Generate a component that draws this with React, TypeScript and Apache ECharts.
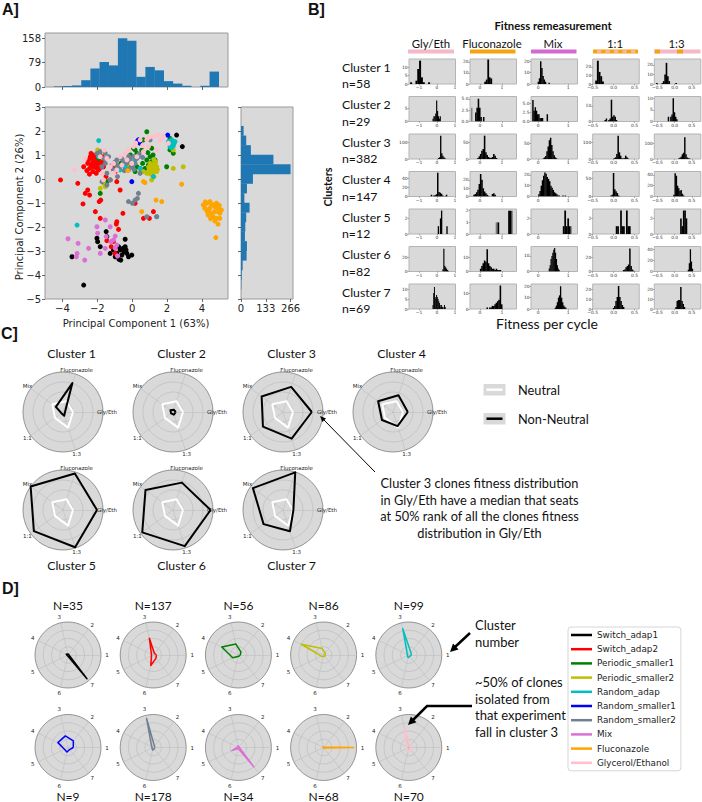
import React, { useEffect, useRef } from 'react';
import * as echarts from 'echarts';

// ================= DATA =================
const EXPERIMENTS = ['Switch_adap1', 'Switch_adap2', 'Periodic_smaller1', 'Periodic_smaller2', 'Random_adap', 'Random_smaller1', 'Random_smaller2', 'Mix', 'Fluconazole', 'Glycerol/Ethanol'];
const EXP_COLORS = ['#000000', '#ff0000', '#008000', '#bfbf00', '#00bfbf', '#0000ff', '#708090', '#da70d6', '#ffa500', '#ffc0cb'];

// Panel A scatter points [PC1, PC2]
const PTS_SWITCH_ADAP1 = [[-3.45, -3.24], [-2.78, -4.42], [-2.02, -2.47], [-1.98, -2.61], [-1.49, -2.19], [-1.45, -2.4], [-0.4, -2.51], [-0.78, -2.82], [-0.69, -2.96], [-0.88, -3.1], [-0.59, -3.17], [-0.46, -3.03], [-0.3, -3.1], [-0.21, -3.24], [-0.02, -3.17], [-0.65, -3.38], [-0.97, -3.24], [-1.26, -3.1], [-1.07, -2.96], [-0.4, -2.82], [-1.83, -2.82], [-0.53, -2.89], [2.55, 1.83], [2.88, 1.35], [-0.75, -3.35], [-0.35, -2.95]];
const PTS_SWITCH_ADAP2 = [[-4.11, -0.04], [-3.12, -0.18], [-2.55, -0.46], [-2.44, -0.67], [-2.69, -0.6], [-2.82, -1.04], [-1.89, -0.94], [-1.8, -0.88], [-2.11, -1.36], [-1.83, -1.64], [-0.88, -1.78], [-0.91, -1.88], [-0.78, -2.1], [-1.2, -2.82], [-0.97, -3.1], [-1.07, -2.6], [-0.53, -1.43], [0.17, -1.01], [0.65, -1.64], [0.99, -1.64], [1.22, -1.36], [-1.45, -2.57], [-2.4, 0.93], [-2.3, 0.65], [-2.21, 0.51], [-2.11, 0.79], [-2.02, 0.58], [-2.44, 0.44], [-1.92, 0.38], [-1.83, 0.65], [-2.25, 0.31], [-2.55, 0.65], [-1.73, 0.93], [-2.36, 1.07], [-2.06, 0.24], [-2.15, 0.93], [-1.9, 0.79], [-2.78, 0.51], [-1.64, 0.51], [-2.2, 0.7], [-2.05, 0.45], [-2.3, 0.85], [-1.95, 0.68], [-2.18, 0.6], [-1.26, -0.04], [-0.88, -0.11], [-0.97, 0.31], [-0.69, -0.46], [-0.4, 0.51], [0.46, 0.44], [-1.5, 0.1], [-1.1, 0.45], [-2.5, 0.8], [-2.35, 0.55], [-2.0, 0.9], [-1.85, 0.45], [-2.6, 0.35], [-2.25, 1.0], [-1.7, 0.7], [-2.45, 0.2]];
const PTS_PERIODIC_SMALLER1 = [[-1.83, -0.6], [-1.87, 1.07], [-1.92, 0.86], [-1.45, -0.11], [-0.97, 0.38], [-0.78, 0.51], [-0.65, 0.65], [-0.3, 0.79], [0.08, 1.28], [0.17, 1.21], [0.27, 1.07], [0.46, 1.49], [0.65, 1.63], [0.84, 1.97], [1.12, 1.28], [0.84, 0.79], [1.03, 0.93], [1.12, 0.72], [1.31, 0.79], [0.93, 0.58], [0.27, 0.51], [1.98, 0.51], [2.17, 1.21], [2.36, 1.07], [2.17, 1.69], [-0.21, 0.58], [0.17, 0.31], [1.22, 0.44], [0.74, 0.44], [0.9, 1.1], [1.2, 1.0], [0.55, 1.2], [-0.1, 1.0], [0.6, 0.65]];
const PTS_PERIODIC_SMALLER2 = [[1.03, 0.65], [1.12, 0.51], [1.22, 0.38], [1.31, 0.58], [1.41, 0.31], [1.18, 0.24], [1.26, 0.79], [0.99, 0.38], [1.41, 0.51], [1.12, -0.04], [0.65, 0.31], [2.36, 0.44], [2.93, 0.51], [2.36, 1.21], [-1.54, -0.32], [-1.83, -0.39], [-1.64, -0.18], [-1.98, 1.21], [-0.3, 0.58], [-0.11, 0.65], [0.84, 0.24], [1.3, 0.45], [1.1, 0.3], [1.15, 0.6], [1.35, 0.7], [1.05, 0.2], [1.25, 0.1], [1.45, 0.4], [0.95, 0.5]];
const PTS_RANDOM_ADAP = [[2.08, 1.56], [2.21, 1.49], [2.32, 1.51], [2.36, 1.38], [2.27, 1.63], [2.17, 1.35], [2.46, 1.56], [-1.92, 1.6], [-3.16, -1.92], [-1.92, 0.93], [0.36, 0.93], [-0.4, 0.51], [1.22, 0.1], [1.41, -1.57], [-0.69, 0.38], [0.46, 0.44], [0.17, 0.79], [2.3, 1.42], [2.4, 1.48], [2.15, 1.55], [2.25, 1.3]];
const PTS_RANDOM_SMALLER1 = [[0.36, 1.63], [0.42, 1.51], [2.04, 1.83], [-0.02, -0.11], [0.3, 1.58]];
const PTS_RANDOM_SMALLER2 = [[-2.02, 1.07], [-1.83, 1.14], [-1.54, 1.07], [-1.73, 0.51], [-1.54, 0.65], [-1.35, 0.93], [-1.45, 0.24], [-1.07, 0.38], [-0.88, 0.58], [-0.69, 0.51], [-0.5, 0.72], [-0.3, 0.65], [-0.11, 0.79], [-0.02, 0.51], [0.17, 0.65], [0.27, 0.86], [0.08, 0.93], [-0.21, 0.38], [-1.73, -0.11], [-1.45, -0.25], [0.36, -0.6], [0.3, -0.81], [-0.21, -0.94], [0.02, -1.01], [0.17, -0.88], [0.84, -1.57], [1.41, -1.57], [-0.88, 0.79], [1.03, 1.63], [0.46, 0.24], [-1.26, -0.04], [-0.84, 0.1], [-1.0, 0.7], [-0.6, 0.85], [-0.2, 0.95], [0.4, 1.05], [0.6, 0.9], [-1.2, 0.55], [-0.45, 0.35], [0.1, 0.4], [-1.6, 0.85]];
const PTS_MIX = [[-3.68, -2.49], [-3.16, -3.1], [-3.2, -3.24], [-3.1, -2.68], [-2.72, -3.38], [-2.5, -2.89], [-2.02, -1.99], [-1.98, -2.26], [-1.54, -1.71], [-1.26, -1.99], [-1.49, -2.4], [-1.07, -2.54], [-0.97, -2.38], [-0.88, -2.75], [-0.97, -2.89], [-0.84, -3.21], [-1.83, -3.1], [-1.54, -2.89], [-1.22, -2.61]];
const PTS_FLUCONAZOLE = [[4.08, -1.08], [4.27, -1.01], [4.46, -0.94], [4.65, -1.08], [4.84, -1.01], [4.93, -1.22], [4.36, -1.29], [4.55, -1.43], [4.74, -1.36], [5.03, -1.43], [4.65, -1.57], [4.84, -1.64], [5.03, -1.64], [4.17, -1.22], [4.46, -1.22], [4.74, -1.15], [5.12, -1.29], [4.93, -1.88], [4.8, -2.44], [4.36, -1.5], [1.37, -0.88], [1.7, -0.94], [0.55, -1.36], [0.74, -0.15], [0.65, -0.11], [2.84, -0.22], [-0.25, 0.35], [4.2, -0.95], [4.55, -1.05], [4.9, -1.35], [4.5, -1.65], [4.75, -1.75], [4.3, -1.35], [5.0, -1.1]];
const PTS_GLY_ETH = [[-3.31, 0.38], [-1.83, 0.93], [-1.45, 0.86], [-1.26, 0.51], [-1.07, 0.65], [-0.69, 0.93], [-0.4, 1.07], [-0.21, 1.21], [0.08, 1.35], [0.46, 1.63], [0.84, 1.63], [1.22, 1.76], [1.5, 1.83], [1.79, 1.76], [-0.88, 0.38], [-0.59, 0.58], [-0.02, 0.65], [0.27, 0.93], [0.65, 1.14], [-1.73, 0.24], [-1.64, -0.04], [-1.07, 0.24], [0.93, 1.35], [2.08, 1.49], [1.41, 1.21], [-2.7, 0.85], [-1.6, 1.2], [0.2, 1.5], [0.6, 1.4], [1.0, 1.75], [1.6, 1.6], [-0.3, 0.8]];
const SCATTER_POINTS = [PTS_SWITCH_ADAP1, PTS_SWITCH_ADAP2, PTS_PERIODIC_SMALLER1, PTS_PERIODIC_SMALLER2, PTS_RANDOM_ADAP, PTS_RANDOM_SMALLER1, PTS_RANDOM_SMALLER2, PTS_MIX, PTS_FLUCONAZOLE, PTS_GLY_ETH];

// Marginal histograms
const PC1_BIN_START = -4.5;
const PC1_BIN_WIDTH = 0.526;
const PC1_COUNTS = [2, 3, 5, 22, 60, 81, 70, 158, 150, 33, 65, 54, 19, 11, 4, 0, 4, 50];
const PC1_TICKS = [0, 79, 158];
const PC2_BIN_START = -4.6;
const PC2_BIN_WIDTH = 0.4;
const PC2_COUNTS = [2, 4, 9, 30, 32, 21, 23, 28, 46, 18, 32, 64, 266, 174, 53, 28, 14];
const PC2_TICKS = [0, 133, 266];
const PC1_AXIS_TICKS = [-4, -2, 0, 2, 4];

// Panel B
const B_COLUMNS = ['Gly/Eth', 'Fluconazole', 'Mix', '1:1', '1:3'];
const B_CLUSTERS = ['Cluster 1', 'Cluster 2', 'Cluster 3', 'Cluster 4', 'Cluster 5', 'Cluster 6', 'Cluster 7'];
const B_SIZES = ['n=58', 'n=29', 'n=382', 'n=147', 'n=12', 'n=82', 'n=69'];
const B_X_RANGES = [[-1.56, 1.03], [-0.45, 1.67], [-0.24, 1.31], [-0.5, 0.61], [-0.59, 0.76]];
const B_X_TICKS = [[-1, 0, 1], [0, 1], [0, 1], [-0.5, 0, 0.5], [-0.5, 0, 0.5]];
// each histogram: [first bin start, bin width, counts]
const B_HIST_R1 = [[-1.5, 0.1, [1, 0, 0, 2, 9, 14, 4, 1, 0, 0, 1]], [0.2, 0.07, [2, 4, 22, 6, 5]], [-0.02, 0.04, [2, 5, 20, 14, 7, 4, 2, 0, 0, 1]], [-0.44, 0.04, [4, 27, 14, 9, 3]], [-0.54, 0.04, [1, 0, 0, 0, 1, 3, 10, 22, 8, 3, 0, 0, 0, 0, 1]]];
const B_HIST_R2 = [[-0.25, 0.05, [1, 2, 2, 3, 8, 4, 2, 1, 2]], [-0.22, 0.06, [2, 3, 5, 3, 1, 0, 1]], [-0.2, 0.04, [6, 3, 4, 3, 2, 2, 1, 1, 1, 0, 0, 0, 2]], [-0.22, 0.03, [1, 2, 0, 1, 2, 14, 3, 4, 3, 1]], [-0.2, 0.035, [2, 0, 2, 3, 10, 4, 2, 1]]];
const B_HIST_R3 = [[0.05, 0.06, [5, 10, 140, 35, 20, 10, 5]], [-0.12, 0.06, [3, 8, 15, 25, 30, 70, 20, 12, 6, 4, 3, 6, 15, 10, 3]], [0.15, 0.04, [2, 5, 10, 25, 40, 60, 68, 45, 25, 12, 5, 2]], [0.0, 0.03, [5, 10, 30, 140, 40, 20, 5, 3, 5, 20, 10, 3]], [0.1, 0.035, [3, 8, 15, 30, 40, 140, 30, 10, 5, 3]]];
const B_HIST_R4 = [[-0.35, 0.07, [4, 0, 2, 3, 5, 52, 10, 8, 6, 2, 0, 1, 4]], [-0.3, 0.06, [2, 3, 5, 8, 15, 27, 20, 10, 6, 4, 2, 1, 0, 0, 3, 4, 2]], [0.0, 0.04, [2, 5, 10, 15, 19, 22, 21, 18, 16, 14, 10, 8, 6, 4, 3, 2, 1, 1, 0, 0, 1, 0, 1]], [-0.08, 0.03, [3, 5, 66, 20, 15, 10, 3, 1]], [-0.04, 0.035, [3, 43, 38, 20, 15, 10, 12, 5, 2]]];
const B_HIST_R5 = [[0.04, 0.06, [1, 0, 2, 3, 0, 0, 0, 0, 1]], [0.8, 0.07, [1, 0, 0, 0, 0, 0, 0, 2, 2]], [0.82, 0.05, [1, 3, 1, 2, 1]], [0.05, 0.035, [1, 1, 0, 3, 1, 1, 0, 3, 1, 1]], [0.16, 0.04, [2, 1, 3, 3, 2]]];
const B_HIST_R6 = [[0.3, 0.05, [3, 32, 8, 6, 4, 2, 1]], [0.0, 0.06, [2, 4, 6, 8, 7, 16, 6, 4, 3, 2, 2, 1, 2, 1, 1, 1]], [0.35, 0.03, [2, 4, 8, 10, 12, 14, 15, 12, 8, 4, 2, 1]], [0.22, 0.03, [2, 3, 6, 8, 10, 33, 8, 3, 1]], [0.38, 0.03, [3, 15, 40, 18, 5]]];
const B_HIST_R7 = [[-0.25, 0.04, [2, 8, 11, 6, 5, 7, 6, 5, 4, 3, 2, 1, 2, 1, 1, 0, 2, 1]], [0.3, 0.06, [1, 0, 1, 1, 2, 2, 3, 4, 5, 6, 15, 3]], [0.55, 0.035, [1, 3, 6, 10, 12, 20, 10, 6, 3, 2, 1]], [-0.02, 0.03, [1, 3, 8, 12, 23, 12, 8, 4, 2]], [0.02, 0.035, [2, 8, 9, 9, 22, 8, 5, 2]]];
const B_HISTS = [B_HIST_R1, B_HIST_R2, B_HIST_R3, B_HIST_R4, B_HIST_R5, B_HIST_R6, B_HIST_R7];
// grey (replicate) bars: [row, col, start, width, counts]
const B_GREY = [[1, 1, -0.4, 0.05, [3]], [4, 1, 0.72, 0.06, [1]], [4, 1, 1.43, 0.06, [2]], [4, 2, 1.07, 0.04, [1]], [0, 0, -0.78, 0.08, [1]]];
const B_YMAX = [[15, 22.5, 22, 29, 26], [9.5, 5.5, 7, 16, 10.8], [150, 75, 80, 150, 160], [55, 30, 23, 70, 46], [3.2, 2.15, 3.2, 3.2, 3.2], [35, 18, 16, 36, 45], [12.5, 16, 22, 25, 25]];
const B_YTICKS = [
  [[0, 5, 10], [0, 10, 20], [0, 10, 20], [0, 10, 20], [0, 10, 20]],
  [[0, 5], [0, 2.5, 5], [0, 2.5, 5], [0, 10], [0, 5, 10]],
  [[0, 100], [0, 50], [0, 50], [0, 100], [0, 100]],
  [[0, 20, 40], [0, 10, 20], [0, 10, 20], [0, 50], [0, 20, 40]],
  [[0, 2], [0, 1, 2], [0, 2], [0, 2], [0, 2]],
  [[0, 20], [0, 10], [0, 10], [0, 20], [0, 20, 40]],
  [[0, 5, 10], [0, 10], [0, 10, 20], [0, 10, 20], [0, 10, 20]],
];

// Panel C
const C_AXES = ['Gly/Eth', 'Fluconazole', 'Mix', '1:1', '1:3'];
const C_TITLES = ['Cluster 1', 'Cluster 2', 'Cluster 3', 'Cluster 4', 'Cluster 5', 'Cluster 6', 'Cluster 7'];
const C_NEUTRAL = [0.25, 0.28, 0.33, 0.25, 0.41];
const C_NON_NEUTRAL = [
  [0.05, 0.76, 0.22, 0.05, 0.1],
  [0.07, 0.06, 0.08, 0.06, 0.07],
  [0.72, 0.66, 0.66, 0.62, 0.7],
  [0.37, 0.44, 0.46, 0.34, 0.37],
  [0.85, 0.96, 1.0, 0.9, 0.98],
  [0.94, 0.72, 0.85, 0.95, 0.95],
  [0.26, 0.99, 0.93, 0.6, 0.56],
];

// Panel D
const D_AXES = ['1', '2', '3', '4', '5', '6', '7'];
const D_TITLES = ['N=35', 'N=137', 'N=56', 'N=86', 'N=99', 'N=9', 'N=178', 'N=34', 'N=68', 'N=70'];
const D_VALUES = [
  [0.03, 0.03, 0.03, 0.06, 0.03, 0.03, 0.92],
  [0.1, 0.06, 0.52, 0.06, 0.06, 0.33, 0.13],
  [0.06, 0.12, 0.34, 0.56, 0.19, 0.05, 0.04],
  [0.05, 0.08, 0.2, 0.75, 0.08, 0.05, 0.05],
  [0.08, 0.1, 0.82, 0.05, 0.05, 0.08, 0.05],
  [0.16, 0.26, 0.36, 0.34, 0.12, 0.14, 0.08],
  [0.05, 0.06, 0.9, 0.05, 0.04, 0.08, 0.05],
  [0.03, 0.03, 0.05, 0.03, 0.22, 0.03, 0.75],
  [0.92, 0.02, 0.02, 0.02, 0.02, 0.02, 0.02],
  [0.05, 0.06, 0.6, 0.08, 0.08, 0.14, 0.12],
];

// ================= HELPERS =================
const BG = '#d9d9d9';
const MPL = 'DejaVu Sans';
const CAL = 'Lato';

const fmt = (v: number, d = 0) => (v < 0 ? '\u2212' : '') + Math.abs(v).toFixed(d);

function binData(start: number, width: number, counts: number[]) {
  return counts.map((c, i) => [start + i * width, start + (i + 1) * width, c]);
}

function vHist(xi: number, yi: number, data: number[][], color: string, z = 2) {
  return {
    type: 'custom', xAxisIndex: xi, yAxisIndex: yi, clip: true, z, silent: true,
    encode: { x: [0, 1], y: 2 },
    data,
    renderItem: (_p: any, api: any) => {
      const a = api.coord([api.value(0), api.value(2)]);
      const b = api.coord([api.value(1), 0]);
      return { type: 'rect', shape: { x: a[0], y: a[1], width: b[0] - a[0] + 0.25, height: b[1] - a[1] }, style: { fill: color } };
    },
  };
}

function hHist(xi: number, yi: number, data: number[][], color: string) {
  return {
    type: 'custom', xAxisIndex: xi, yAxisIndex: yi, clip: true, silent: true,
    encode: { x: 2, y: [0, 1] },
    data,
    renderItem: (_p: any, api: any) => {
      const a = api.coord([0, api.value(1)]);
      const b = api.coord([api.value(2), api.value(0)]);
      return { type: 'rect', shape: { x: a[0], y: a[1] - 0.25, width: b[0] - a[0], height: b[1] - a[1] + 0.25 }, style: { fill: color } };
    },
  };
}

function txt(text: string, x: number, y: number, o: any = {}) {
  const align = o.align || 'left';
  return {
    type: 'text', x, y, rotation: o.rot || 0, z: 60, silent: true,
    style: {
      text, fill: o.fill || '#111', fontSize: o.size || 12, fontFamily: o.family || CAL, fontWeight: o.weight || 'normal',
      align, textAlign: align, verticalAlign: 'middle', textVerticalAlign: 'middle',
    },
  };
}

function arrowHead(x1: number, y1: number, x2: number, y2: number, len: number, half: number) {
  const dx = x2 - x1, dy = y2 - y1, L = Math.hypot(dx, dy);
  const ux = dx / L, uy = dy / L;
  const bx = x2 - ux * len, by = y2 - uy * len;
  return [[x2, y2], [bx - uy * half, by + ux * half], [bx + uy * half, by - ux * half]];
}

function radarCfg(center: number[], radius: number, names: string[], fontSize: number, gap: number) {
  return {
    center, radius, startAngle: 0, shape: 'circle', splitNumber: 4,
    indicator: names.map((n) => ({ name: n, min: 0, max: 1 })),
    axisName: { color: '#222', fontSize, fontFamily: MPL, align: 'center', verticalAlign: 'middle' },
    axisNameGap: gap,
    axisLine: { show: true, lineStyle: { color: '#bdbdbd', width: 0.6 } },
    splitLine: { show: true, lineStyle: { color: ['#bdbdbd', '#bdbdbd', '#bdbdbd', '#bdbdbd', '#6e6e6e'], width: 0.7 } },
    splitArea: { show: true, areaStyle: { color: [BG] } },
    axisTick: { show: false }, axisLabel: { show: false },
  };
}

const NO_LINE = { show: false, onZero: false };

function buildOption() {
  const grid: any[] = [], xAxis: any[] = [], yAxis: any[] = [], series: any[] = [], radar: any[] = [], els: any[] = [];
  const addGrid = (left: number, top: number, width: number, height: number, border: string) => {
    grid.push({ left, top, width, height, show: true, backgroundColor: BG, borderColor: border, borderWidth: 1, containLabel: false, outerBoundsMode: 'none' });
    return grid.length - 1;
  };
  const tickStyle = { color: '#444', width: 0.8 };

  // ---------- Panel A ----------
  const g0 = addGrid(45, 33, 183, 54, '#9a9a9a');
  xAxis.push({ gridIndex: g0, type: 'value', position: 'bottom', min: -5, max: 5.5, axisLine: NO_LINE, splitLine: { show: false }, axisTick: { show: true, customValues: PC1_AXIS_TICKS, length: 3, lineStyle: tickStyle }, axisLabel: { show: false, customValues: PC1_AXIS_TICKS } });
  yAxis.push({ gridIndex: g0, type: 'value', position: 'left', min: 0, max: 175, axisLine: NO_LINE, splitLine: { show: false }, axisTick: { show: true, customValues: PC1_TICKS, length: 3, lineStyle: tickStyle }, axisLabel: { customValues: PC1_TICKS, fontSize: 10, fontFamily: MPL, color: '#222', margin: 4 } });
  series.push(vHist(0, 0, binData(PC1_BIN_START, PC1_BIN_WIDTH, PC1_COUNTS), '#1f77b4'));

  const g1 = addGrid(45, 107, 183, 192, '#9a9a9a');
  xAxis.push({ gridIndex: g1, type: 'value', position: 'bottom', min: -5, max: 5.5, axisLine: NO_LINE, splitLine: { show: false }, axisTick: { show: true, customValues: PC1_AXIS_TICKS, length: 3, lineStyle: tickStyle }, axisLabel: { customValues: PC1_AXIS_TICKS, formatter: (v: number) => fmt(v), fontSize: 10, fontFamily: MPL, color: '#222', margin: 4 } });
  yAxis.push({ gridIndex: g1, type: 'value', position: 'left', min: -5, max: 3, interval: 1, axisLine: NO_LINE, splitLine: { show: false }, axisTick: { show: true, length: 3, lineStyle: tickStyle }, axisLabel: { formatter: (v: number) => fmt(v), fontSize: 10, fontFamily: MPL, color: '#222', margin: 4 } });
  SCATTER_POINTS.forEach((pts, i) => {
    series.push({ type: 'scatter', name: EXPERIMENTS[i], xAxisIndex: 1, yAxisIndex: 1, symbolSize: 5, data: pts, itemStyle: { color: EXP_COLORS[i], opacity: 1 }, silent: true });
  });

  const g2 = addGrid(241, 107, 52, 192, '#9a9a9a');
  xAxis.push({ gridIndex: g2, type: 'value', position: 'bottom', min: 0, max: 279, axisLine: NO_LINE, splitLine: { show: false }, axisTick: { show: true, customValues: PC2_TICKS, length: 3, lineStyle: tickStyle }, axisLabel: { customValues: PC2_TICKS, fontSize: 10, fontFamily: MPL, color: '#222', margin: 4 } });
  yAxis.push({ gridIndex: g2, type: 'value', position: 'left', min: -5, max: 3, interval: 1, axisLine: NO_LINE, splitLine: { show: false }, axisTick: { show: true, length: 3, lineStyle: tickStyle }, axisLabel: { show: false } });
  series.push(hHist(2, 2, binData(PC2_BIN_START, PC2_BIN_WIDTH, PC2_COUNTS), '#1f77b4'));

  els.push(txt('A]', 2, 9, { size: 16, weight: 'bold', family: 'Liberation Sans' }));
  els.push(txt('Principal Component 1 (63%)', 136, 323, { size: 10, family: MPL, align: 'center', fill: '#222' }));
  els.push(txt('Principal Component 2 (26%)', 19, 207, { size: 10, family: MPL, align: 'center', rot: Math.PI / 2, fill: '#222' }));

  // ---------- Panel B ----------
  const B_LEFT = [409, 470, 531, 592.7, 654.3];
  for (let r = 0; r < 7; r++) {
    for (let c = 0; c < 5; c++) {
      const gi = addGrid(B_LEFT[c], 59 + 37.5 * r, 46.5, 25, '#b4b4b4');
      const xt = B_X_TICKS[c];
      const yt = B_YTICKS[r][c];
      const dec = c >= 3 ? 1 : 0;
      const ydec = yt.indexOf(2.5) >= 0 ? 1 : 0;
      xAxis.push({ gridIndex: gi, type: 'value', position: 'bottom', min: B_X_RANGES[c][0], max: B_X_RANGES[c][1], axisLine: NO_LINE, splitLine: { show: false }, axisTick: { show: true, customValues: xt, length: 1.5, lineStyle: { color: '#666', width: 0.5 } }, axisLabel: { customValues: xt, formatter: (v: number) => fmt(v, dec), fontSize: 4.4, fontFamily: MPL, color: '#333', margin: 1.5 } });
      yAxis.push({ gridIndex: gi, type: 'value', position: 'left', min: 0, max: B_YMAX[r][c], axisLine: NO_LINE, splitLine: { show: false }, axisTick: { show: true, customValues: yt, length: 1.5, lineStyle: { color: '#666', width: 0.5 } }, axisLabel: { customValues: yt, formatter: (v: number) => fmt(v, ydec), fontSize: 4.4, fontFamily: MPL, color: '#333', margin: 1.5 } });
      B_GREY.filter((g: any) => g[0] === r && g[1] === c).forEach((g: any) => {
        series.push(vHist(gi, gi, binData(g[2], g[3], g[4]), '#7a7a7a', 1));
      });
      const h: any = B_HISTS[r][c];
      series.push(vHist(gi, gi, binData(h[0], h[1], h[2]), '#000000', 2));
    }
  }
  els.push(txt('B]', 308, 9, { size: 16, weight: 'bold', family: 'Liberation Sans' }));
  els.push(txt('Fitness remeasurement', 553, 25, { size: 11.3, weight: 'bold', align: 'center' }));
  const B_HEAD_X = [431, 492, 553, 615, 676.5];
  B_COLUMNS.forEach((n, i) => els.push(txt(n, B_HEAD_X[i], 43, { size: 11.4, align: 'center' })));
  els.push({ type: 'rect', shape: { x: 408, y: 49.5, width: 46, height: 4 }, style: { fill: '#f5b8c8' } });
  els.push({ type: 'rect', shape: { x: 470, y: 49.5, width: 45.5, height: 4 }, style: { fill: '#f7a30c' } });
  els.push({ type: 'rect', shape: { x: 531, y: 49.5, width: 45.5, height: 4 }, style: { fill: '#d46ad0' } });
  els.push({ type: 'rect', shape: { x: 593, y: 49.5, width: 45, height: 4 }, style: { fill: '#f7a30c' } });
  [597, 605.5, 614, 622.5, 631].forEach((x) => els.push({ type: 'rect', shape: { x, y: 50.3, width: 4.2, height: 2.4 }, style: { fill: '#f5b8c8' } }));
  els.push({ type: 'rect', shape: { x: 654, y: 49.5, width: 46.5, height: 4 }, style: { fill: '#f5b8c8' } });
  els.push({ type: 'rect', shape: { x: 655, y: 49.5, width: 5, height: 4 }, style: { fill: '#f7a30c' } });
  els.push({ type: 'rect', shape: { x: 677, y: 49.5, width: 6, height: 4 }, style: { fill: '#f7a30c' } });
  B_CLUSTERS.forEach((n, r) => {
    els.push(txt(n, 342, 67 + 37.5 * r, { size: 12.3 }));
    els.push(txt(B_SIZES[r], 342, 83.5 + 37.5 * r, { size: 12.3 }));
  });
  els.push(txt('Clusters', 327, 187, { size: 10.8, weight: 'bold', align: 'center', rot: Math.PI / 2 }));
  els.push(txt('Fitness per cycle', 547, 323, { size: 14, align: 'center' }));

  // ---------- Panel C ----------
  const C_CX = [63, 173, 283, 393];
  const C_CY = [412, 510];
  C_NON_NEUTRAL.forEach((vals, k) => {
    const row = k < 4 ? 0 : 1;
    const col = k < 4 ? k : k - 4;
    const cx = C_CX[col], cy = C_CY[row];
    radar.push(radarCfg([cx, cy], 40, C_AXES, 5.5, 4));
    series.push({
      type: 'radar', radarIndex: radar.length - 1, symbol: 'none', silent: true, z: 3,
      data: [
        { value: C_NEUTRAL, name: 'Neutral', lineStyle: { color: '#ffffff', width: 2 }, itemStyle: { color: '#ffffff' } },
        { value: vals, name: 'Non-Neutral', lineStyle: { color: '#000000', width: 2 }, itemStyle: { color: '#000000' } },
      ],
    });
    els.push(txt(C_TITLES[k], cx + 8.5, row === 0 ? 353 : 565, { size: 12.3, align: 'center' }));
  });
  els.push(txt('C]', 1, 333, { size: 16, weight: 'bold', family: 'Liberation Sans' }));
  els.push({ type: 'rect', shape: { x: 483.5, y: 384, width: 22, height: 11.5 }, style: { fill: BG } });
  els.push({ type: 'line', shape: { x1: 486.5, y1: 389.7, x2: 502.5, y2: 389.7 }, style: { stroke: '#fff', lineWidth: 2.5 } });
  els.push({ type: 'rect', shape: { x: 483.5, y: 413, width: 22, height: 11.5 }, style: { fill: BG } });
  els.push({ type: 'line', shape: { x1: 486.5, y1: 418.7, x2: 502.5, y2: 418.7 }, style: { stroke: '#000', lineWidth: 2.5 } });
  els.push(txt('Neutral', 518, 389.5, { size: 12.8 }));
  els.push(txt('Non-Neutral', 518, 418.5, { size: 12.8 }));
  ['Cluster 3 clones fitness distribution', 'in Gly/Eth have a median that seats', 'at 50% rank of all the clones fitness', 'distribution in Gly/Eth'].forEach((l, i) => {
    els.push(txt(l, 479.5, 483 + 16.6 * i, { size: 12.8, align: 'center' }));
  });
  els.push({ type: 'line', z: 70, shape: { x1: 375, y1: 472, x2: 323, y2: 419 }, style: { stroke: '#000', lineWidth: 1 } });
  els.push({ type: 'polygon', z: 70, shape: { points: arrowHead(375, 472, 320, 416, 6, 2.6) }, style: { fill: '#000' } });

  // ---------- Panel D ----------
  const D_CY = [655, 747.5];
  D_VALUES.forEach((vals, k) => {
    const row = k < 5 ? 0 : 1;
    const col = k % 5;
    const cx = 68 + 85.2 * col, cy = D_CY[row];
    radar.push(radarCfg([cx, cy], 33, D_AXES, 5.5, 6));
    series.push({
      type: 'radar', name: EXPERIMENTS[k], radarIndex: radar.length - 1, symbol: 'none', silent: true, z: 3,
      itemStyle: { color: EXP_COLORS[k] }, lineStyle: { color: EXP_COLORS[k], width: 1.5 },
      data: [{ value: vals, name: EXPERIMENTS[k], itemStyle: { color: EXP_COLORS[k] }, lineStyle: { color: EXP_COLORS[k], width: 1.5 } }],
    });
    els.push(txt(D_TITLES[k], cx, row === 0 ? 605 : 796, { size: 12, align: 'center' }));
  });
  els.push(txt('D]', 2, 588, { size: 16, weight: 'bold', family: 'Liberation Sans' }));
  els.push(txt('Cluster', 475, 625, { size: 13 }));
  els.push(txt('number', 475, 642, { size: 13 }));
  ['~50% of clones', 'isolated from', 'that experiment', 'fall in cluster 3'].forEach((l, i) => els.push(txt(l, 475, 682 + 16.6 * i, { size: 13 })));
  els.push({ type: 'line', z: 70, shape: { x1: 470, y1: 633, x2: 455, y2: 647 }, style: { stroke: '#000', lineWidth: 2.5 } });
  els.push({ type: 'polygon', z: 70, shape: { points: arrowHead(470, 633, 450, 652, 8, 4) }, style: { fill: '#000' } });
  els.push({ type: 'polyline', z: 70, shape: { points: [[472, 706], [427, 706], [413, 720]] }, style: { stroke: '#000', lineWidth: 2.5, fill: null } });
  els.push({ type: 'polygon', z: 70, shape: { points: arrowHead(427, 706, 408, 725, 8, 4) }, style: { fill: '#000' } });

  return {
    animation: false,
    backgroundColor: '#ffffff',
    grid, xAxis, yAxis, radar, series,
    legend: {
      data: EXPERIMENTS, orient: 'vertical', left: 568, top: 627, icon: 'rect', itemWidth: 21, itemHeight: 2.5, itemGap: 4.2,
      padding: [3, 5, 3, 3], backgroundColor: '#ffffff', borderColor: '#d6d6d6', borderWidth: 1, borderRadius: 3, selectedMode: false,
      textStyle: { fontFamily: MPL, fontSize: 8.8, color: '#222', lineHeight: 10 },
    },
    graphic: { elements: els },
  };
}

export default function App() {
  const ref = useRef<HTMLDivElement>(null);
  useEffect(() => {
    document.body.style.margin = '0';
    const chart = echarts.init(ref.current as HTMLDivElement, null, { renderer: 'svg' });
    chart.setOption(buildOption() as any);
    return () => chart.dispose();
  }, []);
  return <div ref={ref} style={{ position: 'absolute', left: 0, top: 0, width: 702, height: 802, background: '#fff' }} />;
}
